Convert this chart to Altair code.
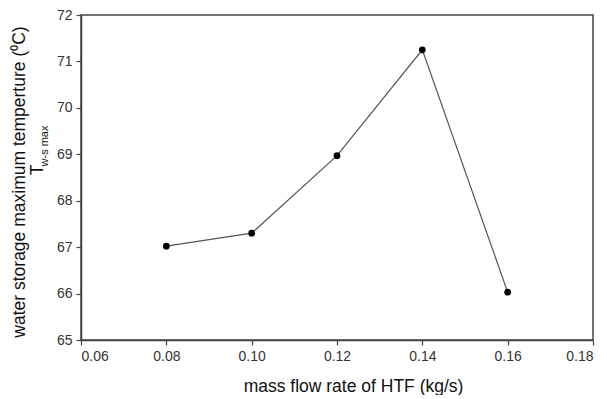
import altair as alt
import pandas as pd

flow = [0.08, 0.10, 0.12, 0.14, 0.16]
temp = [67.02, 67.30, 68.97, 71.25, 66.03]
x_ticks = [0.06, 0.08, 0.10, 0.12, 0.14, 0.16, 0.18]
y_ticks = [65, 66, 67, 68, 69, 70, 71, 72]

df = pd.DataFrame({"flow": flow, "temp": temp})

xenc = alt.X("flow:Q", scale=alt.Scale(domain=[0.06, 0.18], nice=False),
             axis=alt.Axis(values=x_ticks, format=".2f", title="mass flow rate of HTF (kg/s)",
                           grid=False, tickSize=5, labelPadding=4, titlePadding=14,
                           titleX=272, titleAlign="center"))
yenc = alt.Y("temp:Q", scale=alt.Scale(domain=[65, 72], nice=False, zero=False),
             axis=alt.Axis(values=y_ticks, format="d", title=None, grid=False,
                           tickSize=5, labelPadding=4))

base = alt.Chart(df).encode(x=xenc, y=yenc)
line = base.mark_line(color="#555555", strokeWidth=1.2)
pts = base.mark_point(filled=True, color="#000000", size=45, opacity=1)

t1 = alt.Chart(pd.DataFrame({"t": ["water storage maximum temperture (\u2070C)"]})).mark_text(
    angle=270, align="center", baseline="middle", fontSize=17.5, font="Liberation Sans", color="#111111"
).encode(text="t:N", x=alt.value(-61), y=alt.value(167))
t2 = alt.Chart(pd.DataFrame({"t": ["T"]})).mark_text(
    angle=270, align="center", baseline="middle", fontSize=17.5, font="Liberation Sans", color="#111111"
).encode(text="t:N", x=alt.value(-43), y=alt.value(155))
t3 = alt.Chart(pd.DataFrame({"t": ["w-s max"]})).mark_text(
    angle=270, align="center", baseline="middle", fontSize=11, font="Liberation Sans", color="#111111"
).encode(text="t:N", x=alt.value(-36), y=alt.value(131))

chart = alt.layer(line, pts, t1, t2, t3).properties(
    width=512, height=325,
    autosize=alt.AutoSizeParams(type="none"),
    padding={"left": 73, "top": 7, "right": 6, "bottom": 55},
).configure_view(stroke="#444444", strokeWidth=1.5).configure_axis(
    domainColor="#444444", domainWidth=1.5, tickColor="#444444", tickWidth=1.2,
    labelFont="Liberation Sans", labelFontSize=14, labelColor="#333333",
    titleFont="Liberation Sans", titleFontSize=17.5, titleFontWeight="normal", titleColor="#111111",
)

chart.save("out.html", embed_options={"renderer": "svg", "actions": False})
